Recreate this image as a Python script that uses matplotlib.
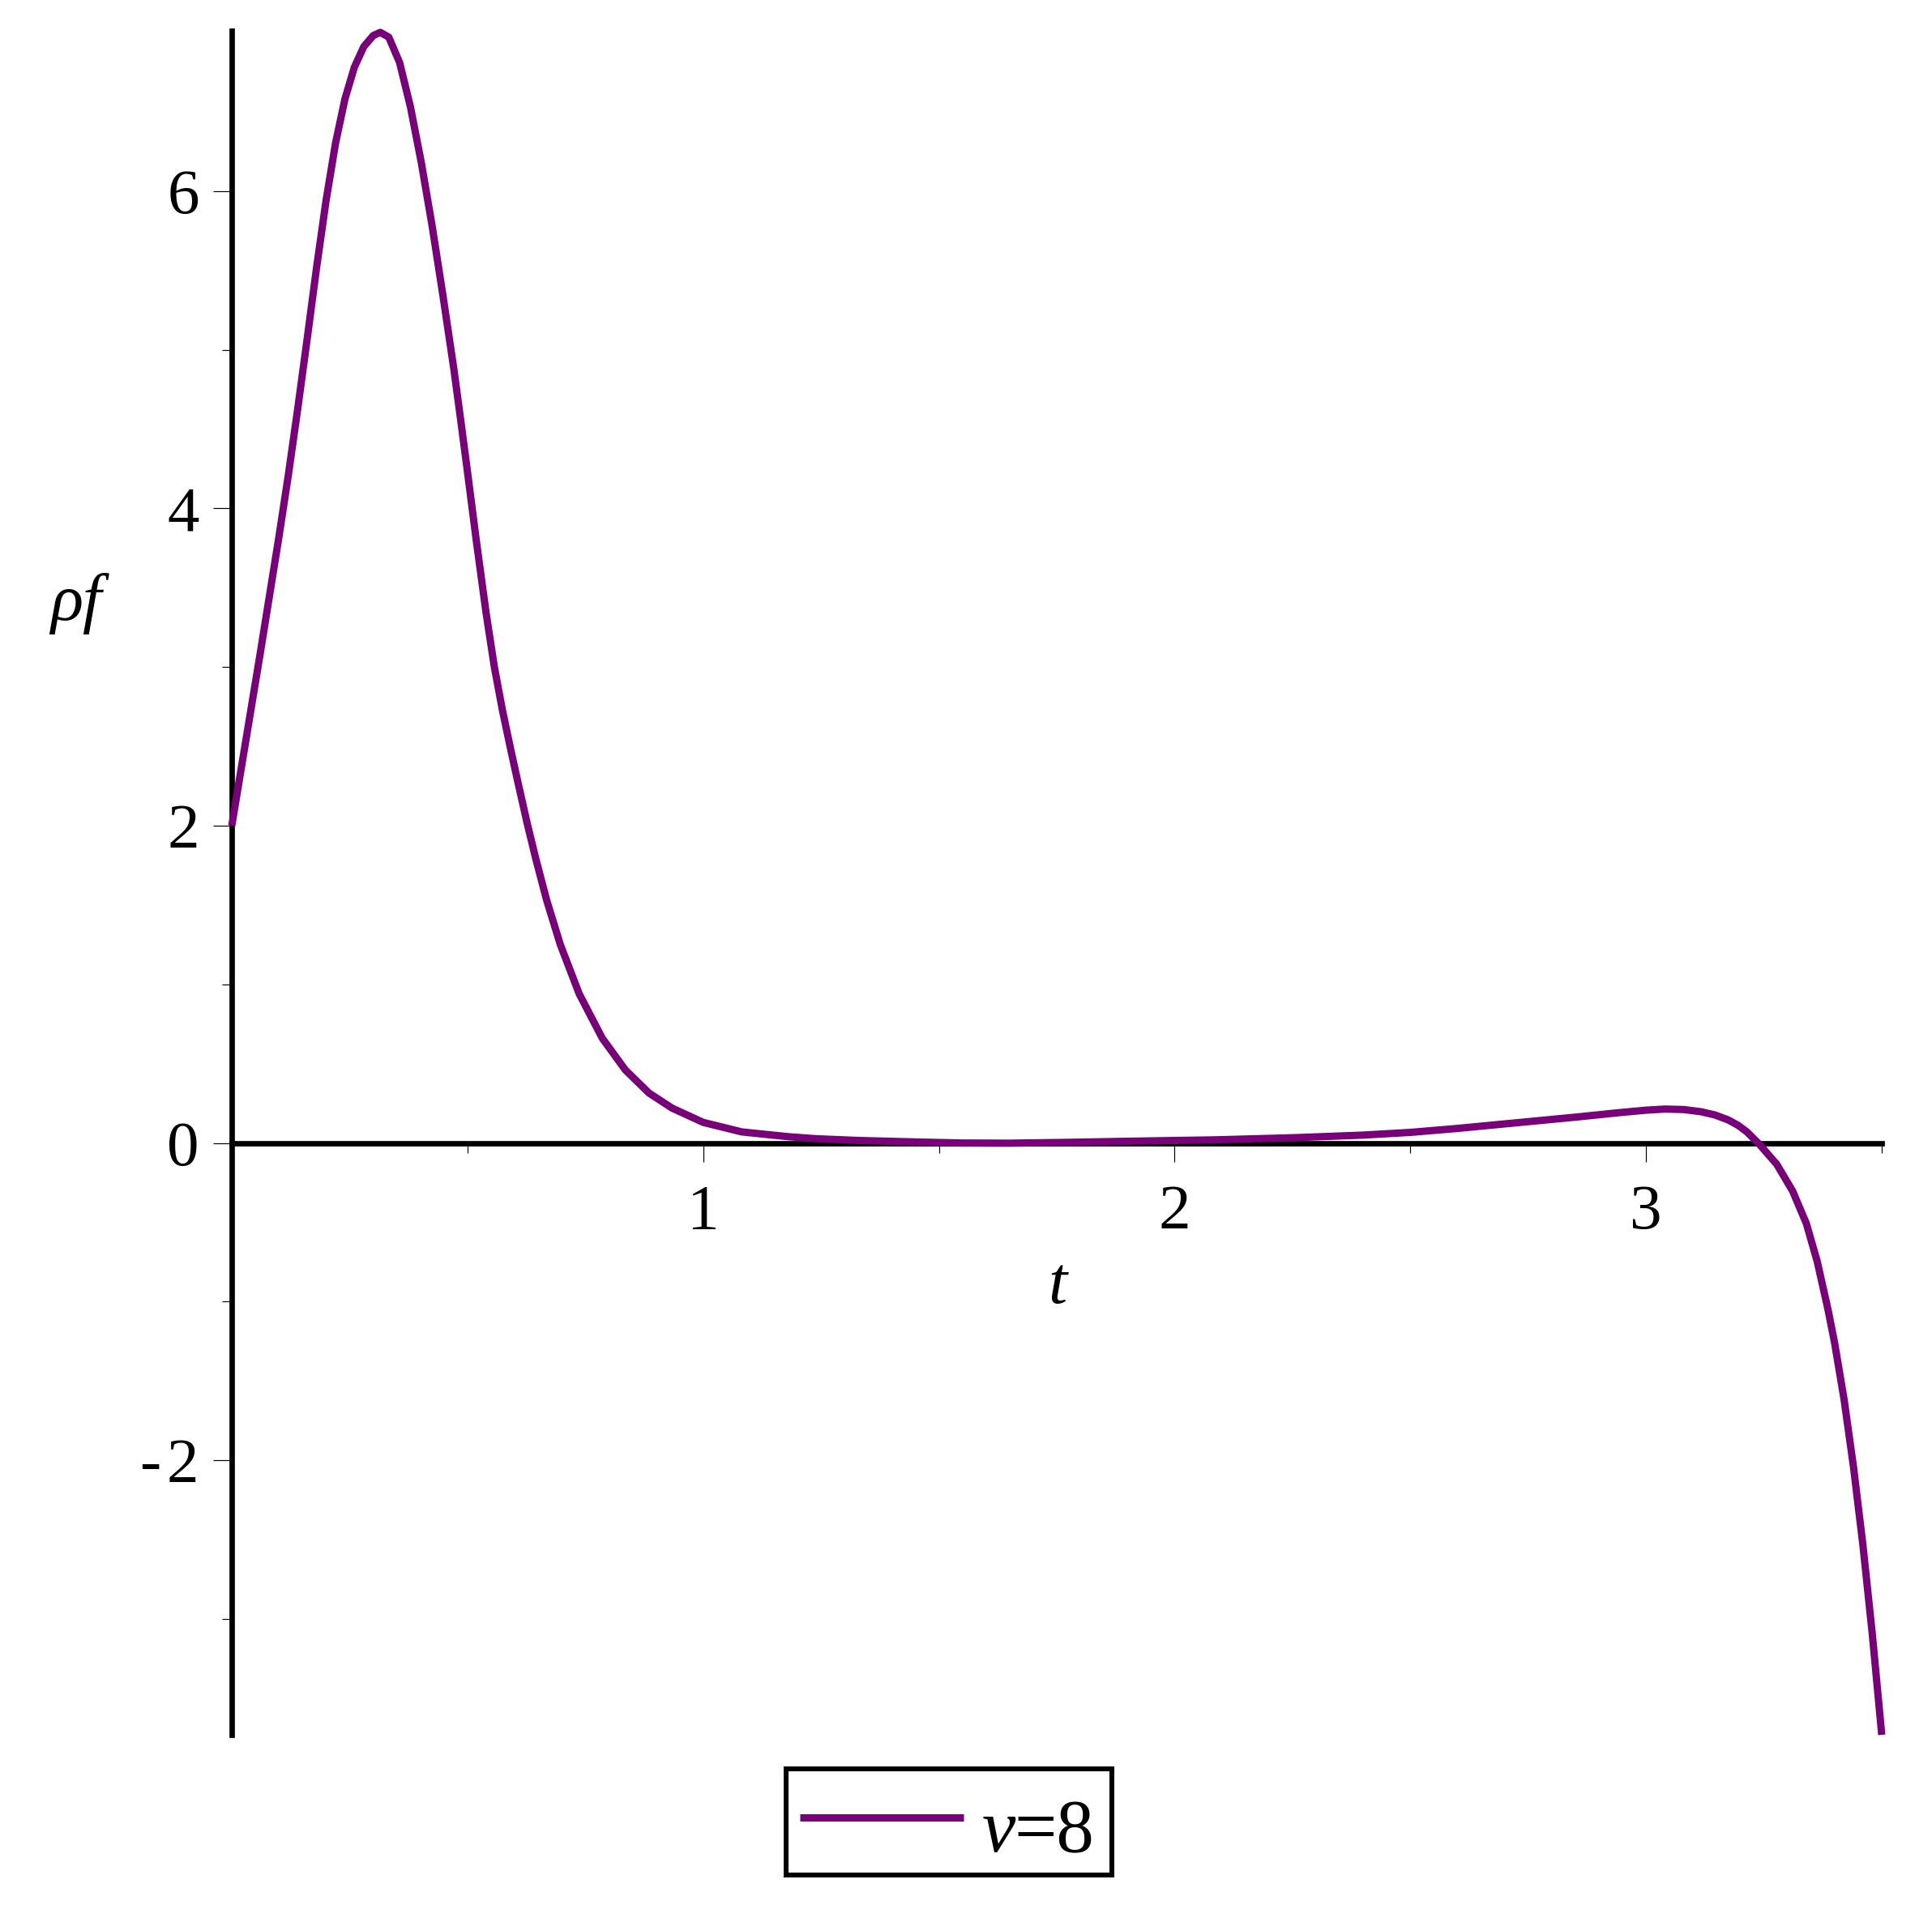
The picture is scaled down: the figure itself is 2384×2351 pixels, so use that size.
import matplotlib
matplotlib.use("Agg")
import matplotlib.pyplot as plt
from matplotlib.ticker import FixedLocator, NullFormatter
from matplotlib.patches import Rectangle
from matplotlib.lines import Line2D

# ---- data ----
t_vals = [0.0, 0.02, 0.04, 0.06, 0.08, 0.10, 0.12, 0.14, 0.16, 0.18,
          0.20, 0.22, 0.24, 0.26, 0.28, 0.30, 0.315, 0.333, 0.356, 0.379,
          0.402, 0.425, 0.448, 0.471, 0.485, 0.500, 0.519, 0.5395, 0.557, 0.574,
          0.591, 0.608, 0.627, 0.645, 0.668, 0.697, 0.737, 0.786, 0.835, 0.885,
          0.934, 1.0, 1.082, 1.18, 1.24, 1.33, 1.46, 1.55, 1.65, 1.77,
          1.9, 2.0, 2.086, 2.258, 2.4, 2.5, 2.6, 2.716, 2.85, 2.945,
          3.0, 3.04, 3.08, 3.117, 3.146, 3.174, 3.195, 3.214, 3.240, 3.277,
          3.311, 3.340, 3.363, 3.386, 3.40, 3.42, 3.44, 3.46, 3.48, 3.50]
rho_f = [2.0, 2.36, 2.72, 3.08, 3.45, 3.82, 4.21, 4.63, 5.07, 5.52,
         5.94, 6.30, 6.58, 6.78, 6.91, 6.98, 7.0, 6.97, 6.81, 6.53,
         6.18, 5.78, 5.34, 4.88, 4.57, 4.23, 3.79, 3.34, 3.00, 2.73,
         2.49, 2.26, 2.01, 1.79, 1.53, 1.25, 0.94, 0.66, 0.46, 0.315,
         0.22, 0.13, 0.07, 0.04, 0.027, 0.016, 0.006, 0.0, -0.001, 0.004,
         0.011, 0.016, 0.020, 0.034, 0.050, 0.067, 0.092, 0.125, 0.163, 0.192,
         0.207, 0.214, 0.211, 0.197, 0.177, 0.146, 0.112, 0.070, -0.007, -0.133,
         -0.303, -0.507, -0.745, -1.05, -1.26, -1.615, -2.04, -2.533, -3.097, -3.73]
x_major = [1, 2, 3]
x_minor = [0.5, 1.5, 2.5, 3.5]
y_major = [-2, 0, 2, 4, 6]
y_minor = [-3, -1, 1, 3, 5]
y_tick_labels = ["-\u200a2", "0", "2", "4", "6"]
x_tick_labels = ["1", "2", "3"]
legend_symbol = "\u03bd"
legend_rest = "=8"

plt.rcParams['font.family'] = ['Liberation Serif', 'DejaVu Serif']

W, H = 2384, 2351
dpi = 100
px = 72.0 / dpi  # points per pixel
fig = plt.figure(figsize=(W / dpi, H / dpi), dpi=dpi)
L, R, T, B = 286, 2322, 38, 2141
ax = fig.add_axes([L / W, (H - B) / H, (R - L) / W, (B - T) / H])

color = '#780078'
lw_curve = 9 * px
line, = ax.plot(t_vals, rho_f, color=color, lw=lw_curve, solid_joinstyle='round',
                solid_capstyle='butt', clip_on=False, zorder=3)

ax.set_xlim(0, 3.5)
ax.set_ylim(-3.73, 7.01)

for s in ['top', 'right']:
    ax.spines[s].set_visible(False)
ax.spines['left'].set_position(('data', 0))
ax.spines['bottom'].set_position(('data', 0))
for s in ['left', 'bottom']:
    ax.spines[s].set_linewidth(6.7 * px)
    ax.spines[s].set_color('black')
    ax.spines[s].set_zorder(2)

ax.xaxis.set_major_locator(FixedLocator(x_major))
ax.xaxis.set_minor_locator(FixedLocator(x_minor))
ax.yaxis.set_major_locator(FixedLocator(y_major))
ax.yaxis.set_minor_locator(FixedLocator(y_minor))
ax.set_xticklabels(x_tick_labels)
ax.set_yticklabels(y_tick_labels)
ax.xaxis.set_minor_formatter(NullFormatter())
ax.yaxis.set_minor_formatter(NullFormatter())

ax.tick_params(axis='both', which='major', direction='out', width=1.2 * px,
               labelsize=57, color='black', length=23 * px)
ax.tick_params(axis='x', which='major', pad=20)
ax.tick_params(axis='y', which='major', pad=12.5)
ax.tick_params(axis='both', which='minor', direction='out', width=1.2 * px,
               length=12 * px)

# axis labels
fig.text(1305 / W, 1 - 1588 / H, "t", fontsize=60, style='italic',
         ha='center', va='center')
fig.text(94 / W, 1 - 745 / H, "\u03c1f", fontsize=60, style='italic',
         ha='center', va='center')

# legend (framed box below the plot)
bx0, bx1, by0, by1 = 970, 1372, 2183, 2314
fig.patches.append(Rectangle((bx0 / W, 1 - by1 / H), (bx1 - bx0) / W, (by1 - by0) / H,
                             transform=fig.transFigure, fill=False,
                             edgecolor='black', linewidth=6 * px))
fig.lines.append(Line2D([987 / W, 1189 / W], [1 - 2243 / H, 1 - 2243 / H],
                        transform=fig.transFigure, color=color,
                        linewidth=lw_curve, solid_capstyle='butt'))
t_nu = fig.text(1212 / W, 1 - 2285 / H, legend_symbol, fontsize=67,
                style='italic', ha='left', va='baseline')
fig.canvas.draw()
bb = t_nu.get_window_extent()
fig.text((bb.x1 - 2) / W, 1 - 2285 / H, legend_rest, fontsize=67,
         ha='left', va='baseline')

fig.savefig('out.png', dpi=dpi)
